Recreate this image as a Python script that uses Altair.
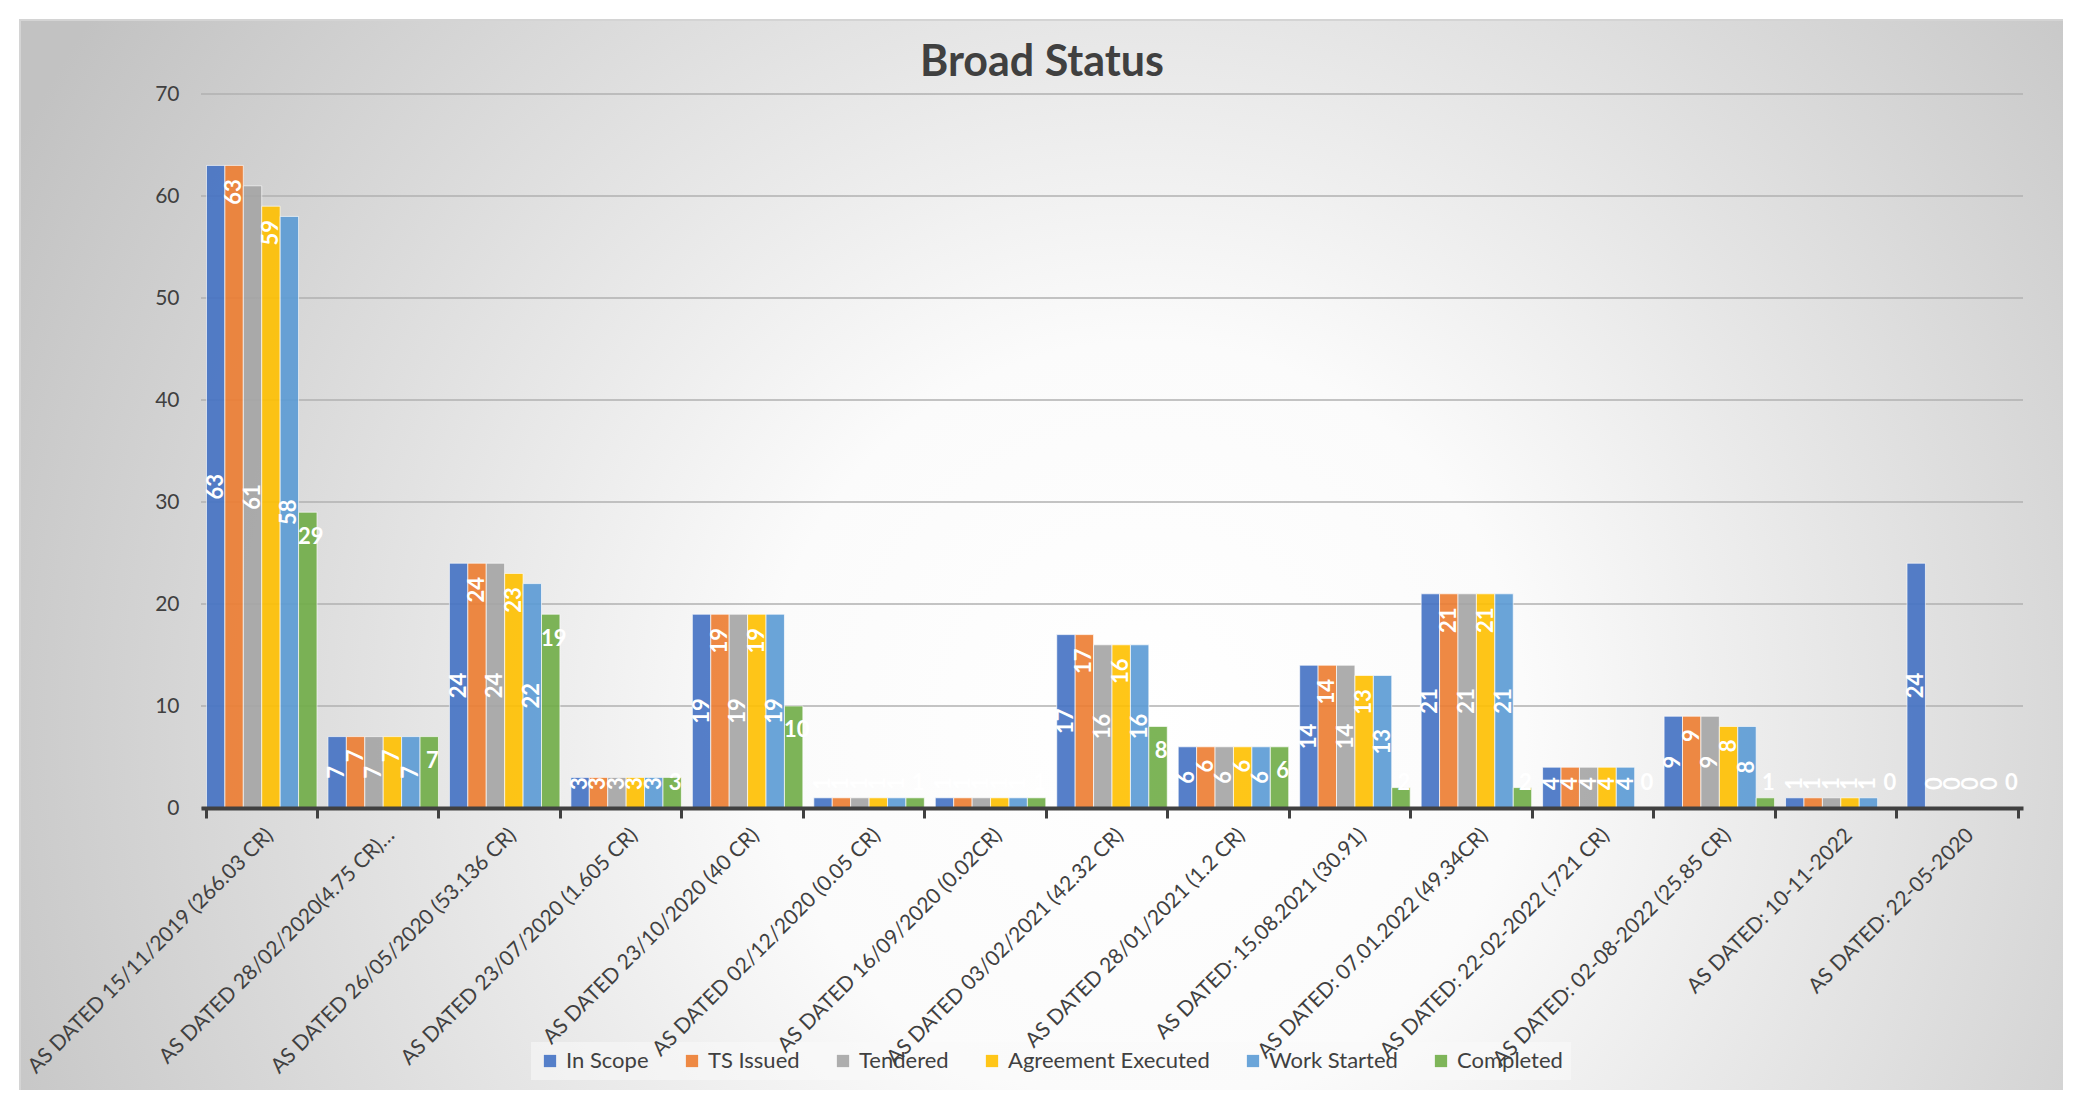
import altair as alt
import pandas as pd

categories = [
    "AS DATED 15/11/2019 (266.03 CR)",
    "AS DATED 28/02/2020(4.75 CR)…",
    "AS DATED 26/05/2020 (53.136 CR)",
    "AS DATED 23/07/2020 (1.605 CR)",
    "AS DATED 23/10/2020 (40 CR)",
    "AS DATED 02/12/2020 (0.05 CR)",
    "AS DATED 16/09/2020 (0.02CR)",
    "AS DATED 03/02/2021 (42.32 CR)",
    "AS DATED 28/01/2021 (1.2 CR)",
    "AS DATED: 15.08.2021 (30.91)",
    "AS DATED: 07.01.2022 (49.34CR)",
    "AS DATED: 22-02-2022 (.721 CR)",
    "AS DATED: 02-08-2022 (25.85 CR)",
    "AS DATED: 10-11-2022",
    "AS DATED: 22-05-2020",
]
series = ["In Scope", "TS Issued", "Tendered", "Agreement Executed", "Work Started", "Completed"]
in_scope = [63, 7, 24, 3, 19, 1, 1, 17, 6, 14, 21, 4, 9, 1, 24]
ts_issued = [63, 7, 24, 3, 19, 1, 1, 17, 6, 14, 21, 4, 9, 1, 0]
tendered = [61, 7, 24, 3, 19, 1, 1, 16, 6, 14, 21, 4, 9, 1, 0]
agreement_executed = [59, 7, 23, 3, 19, 1, 1, 16, 6, 13, 21, 4, 8, 1, 0]
work_started = [58, 7, 22, 3, 19, 1, 1, 16, 6, 13, 21, 4, 8, 1, 0]
completed = [29, 7, 19, 3, 10, 1, 1, 8, 6, 2, 2, 0, 1, 0, 0]
colors = ["#4472C4", "#ED7D31", "#A5A5A5", "#FFC000", "#5B9BD5", "#70AD47"]
y_ticks = [0, 10, 20, 30, 40, 50, 60, 70]

values = [in_scope, ts_issued, tendered, agreement_executed, work_started, completed]
rows = []
for si, (s, vals) in enumerate(zip(series, values)):
    for c, v in zip(categories, vals):
        rows.append({"cat": c, "series": s, "idx": si, "value": v})
df = pd.DataFrame(rows)
grid_df = pd.DataFrame({"tick": y_ticks})

FONT = "Lato"
TXT = "#404040"

x_enc = alt.X("cat:N", sort=categories, title=None,
              scale=alt.Scale(paddingInner=0.09, paddingOuter=0.045),
              axis=alt.Axis(labelAngle=315, labelFontSize=21, labelFont=FONT, labelColor=TXT,
                            labelLimit=0, labelPadding=6, domainColor=TXT, domainWidth=4,
                            tickBand="extent", tickColor=TXT, tickWidth=3, tickSize=10,
                            zindex=1))
y_scale = alt.Scale(domain=[0, 70], nice=False)
xoff = alt.XOffset("series:N", sort=series, scale=alt.Scale(paddingInner=0))

bg = alt.Chart(pd.DataFrame({"k": [0]})).mark_rect(
    fill=alt.Gradient(gradient="radial",
                      stops=[alt.GradientStop(offset=0, color="#ffffff"),
                             alt.GradientStop(offset=0.3, color="#fbfbfb"),
                             alt.GradientStop(offset=1, color="#c2c2c2")],
                      x1=0.55, y1=0.58, r1=0, x2=0.55, y2=0.58, r2=0.62),
    stroke="#d4d4d4", strokeWidth=2,
).encode(x=alt.value(-181), x2=alt.value(1864), y=alt.value(-74), y2=alt.value(1004))

grid = alt.Chart(grid_df).mark_rule(color="#b0b0b0", strokeWidth=1.5).encode(
    y=alt.Y("tick:Q", scale=y_scale)
)

bars = alt.Chart(df).mark_bar(opacity=0.9, stroke="white", strokeWidth=1, strokeOpacity=0.7).encode(
    x=x_enc,
    xOffset=xoff,
    y=alt.Y("value:Q", scale=y_scale, title=None,
            axis=alt.Axis(values=y_ticks, grid=False, domain=False, ticks=False,
                          labelFontSize=21, labelFont=FONT, labelColor=TXT, labelPadding=22,
                          zindex=1)),
    color=alt.Color("series:N", sort=series,
                    scale=alt.Scale(domain=series, range=colors),
                    legend=alt.Legend(title=None, orient="none", legendX=330, legendY=948,
                                      direction="horizontal", symbolType="square",
                                      symbolSize=150, symbolStrokeWidth=0,
                                      labelFontSize=22, labelFont=FONT, labelColor=TXT,
                                      labelLimit=0, columnPadding=32, labelOffset=5,
                                      fillColor="rgba(250,250,250,0.55)", padding=8)),
)

rot_labels = alt.Chart(df).transform_filter("datum.idx < 5").transform_calculate(
    ly="max((datum.idx % 2 == 1) ? (datum.value >= 10 ? datum.value - 2.6 : datum.value - 1.9) : datum.value / 2, 2.4)"
).mark_text(angle=270, color="white", fontWeight="bold", fontSize=22, font=FONT,
            align="center", baseline="middle").encode(
    x=alt.X("cat:N", sort=categories),
    xOffset=xoff,
    y=alt.Y("ly:Q", scale=y_scale),
    text=alt.Text("value:Q"),
)

flat_labels = alt.Chart(df).transform_filter("datum.idx == 5").transform_calculate(
    ly="max(datum.value - 2.4, 2.5)"
).mark_text(color="white", fontWeight="bold", fontSize=22, font=FONT,
            align="center", baseline="middle", dx=3).encode(
    x=alt.X("cat:N", sort=categories),
    xOffset=xoff,
    y=alt.Y("ly:Q", scale=y_scale),
    text=alt.Text("value:Q"),
)

chart = alt.layer(bg, grid, bars, rot_labels, flat_labels).properties(
    width=1822, height=714,
    autosize=alt.AutoSizeParams(type="none"),
    padding={"left": 193, "top": 86, "right": 40, "bottom": 282},
    title=alt.TitleParams("Broad Status", fontSize=43, font=FONT, fontWeight="bold",
                          color=TXT, anchor="middle", dx=-70, offset=-100,
                          baseline="alphabetic"),
).configure_view(stroke=None).configure(background="white")

chart.save("out.html", embed_options={"renderer": "svg", "actions": False})
